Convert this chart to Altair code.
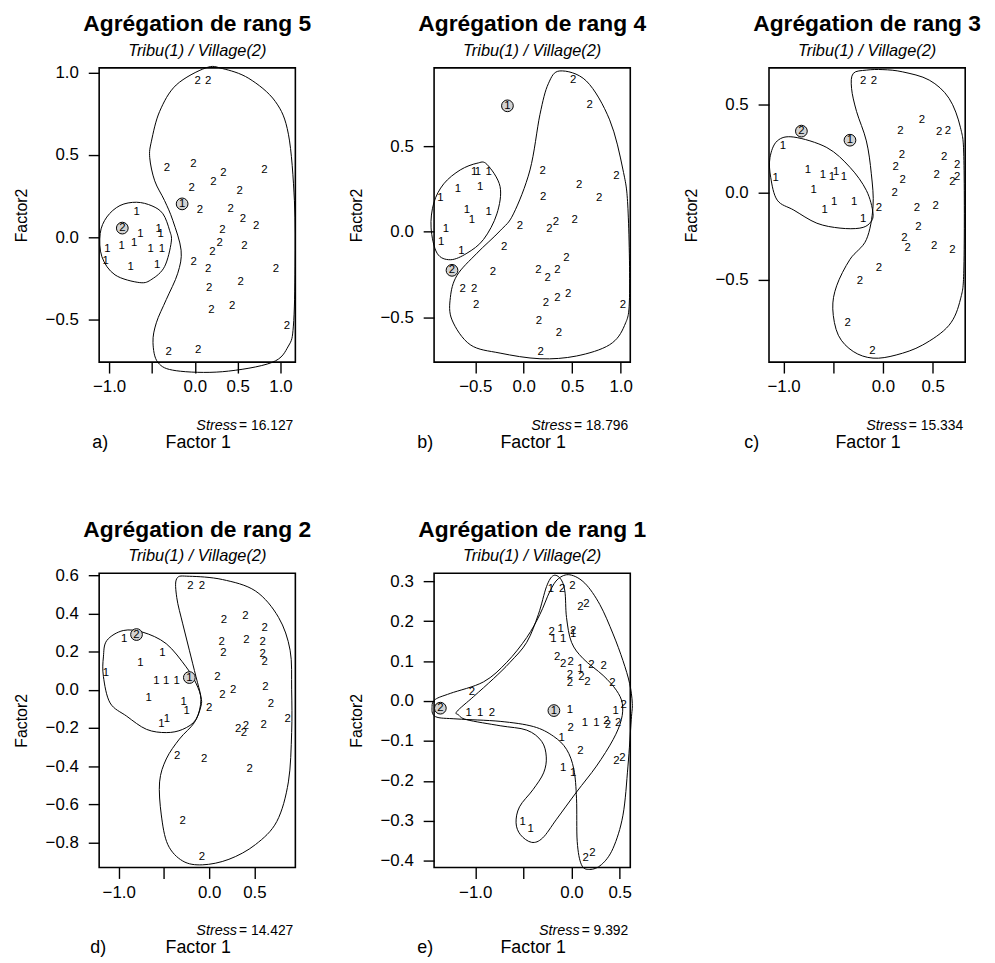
import altair as alt
import pandas as pd

FONT = "Liberation Sans"
W, H = 198, 297

# ---------------- Panel a : rang 5 ----------------
a_lab = ["2"] * 27 + ["1"] * 12
a_x = [0.032, 0.156, -0.326, -0.017, 0.812, 0.217, 0.333, -0.037, 0.522, 0.060, 0.418, 0.561, 0.715,
       0.321, 0.291, 0.206, 0.580, -0.014, 0.156, 0.946, 0.534, 0.168, 0.194, 0.437, 1.073, -0.306, 0.040,
       -0.680, -0.634, -0.422, -0.399, -1.020, -0.853, -0.708, -0.514, -0.384, -1.040, -0.749, -0.438]
a_y = [0.95, 0.95, 0.422, 0.443, 0.407, 0.332, 0.392, 0.298, 0.278, 0.166, 0.172, 0.112, 0.067,
       0.046, -0.035, -0.089, -0.055, -0.149, -0.193, -0.193, -0.270, -0.309, -0.444, -0.420, -0.540, -0.697, -0.685,
       0.152, 0.022, 0.052, 0.016, -0.075, -0.055, -0.035, -0.075, -0.075, -0.143, -0.179, -0.169]
a_hl_lab = ["1", "2"]
a_hl_x = [-0.148, -0.846]
a_hl_y = [0.202, 0.055]
a_c1_x = [-0.680, -0.500, -0.372, -0.295, -0.275, -0.353, -0.500, -0.642, -0.931, -1.084, -1.104, -1.027, -0.873]
a_c1_y = [0.212, 0.190, 0.142, 0.042, -0.030, -0.179, -0.255, -0.276, -0.229, -0.119, 0.022, 0.122, 0.192]
a_c2_x = [0.129, -0.217, -0.410, -0.506, -0.526, -0.468, -0.353, -0.257, -0.160, -0.199, -0.333, -0.449, -0.488,
          -0.430, -0.217, 0.321, 0.899, 1.092, 1.150, 1.170, 1.162, 1.092, 0.939, 0.630, 0.321]
a_c2_y = [1.028, 0.924, 0.764, 0.583, 0.483, 0.342, 0.222, 0.102, -0.079, -0.219, -0.379, -0.520, -0.640,
          -0.761, -0.811, -0.817, -0.761, -0.661, -0.540, -0.179, 0.222, 0.625, 0.824, 0.964, 1.024]

# ---------------- Panel b : rang 4 ----------------
b_lab = ["2"] * 27 + ["1"] * 12
b_x = [0.511, 0.682, 0.195, 0.572, 0.202, 0.778, 0.956, -0.038, 0.264, 0.332, 0.527, -0.202, -0.319, -0.630,
       -0.511, -0.490, 0.151, 0.247, 0.349, 0.442, 0.229, 0.349, 0.459, 1.025, 0.157, 0.363, 0.175,
       -0.511, -0.473, -0.363, -0.678, -0.449, -0.860, -0.586, -0.534, -0.363, -0.802, -0.853, -0.644]
b_y = [0.890, 0.744, 0.355, 0.273, 0.205, 0.196, 0.326, 0.035, 0.016, 0.060, 0.070, -0.089, -0.236, -0.333,
       -0.333, -0.430, -0.221, -0.269, -0.221, -0.153, -0.419, -0.386, -0.362, -0.430, -0.521, -0.593, -0.705,
       0.347, 0.347, 0.347, 0.248, 0.260, 0.196, 0.128, 0.070, 0.118, 0.016, -0.062, -0.110]
b_hl_lab = ["1", "2"]
b_hl_x = [-0.168, -0.740]
b_hl_y = [0.737, -0.225]
b_c1_x = [-0.380, -0.244, -0.277, -0.414, -0.586, -0.757, -0.894, -0.956, -0.928, -0.825, -0.655, -0.483]
b_c1_y = [0.395, 0.265, 0.105, -0.044, -0.125, -0.163, -0.125, 0.023, 0.169, 0.281, 0.362, 0.401]
b_c2_x = [0.373, 0.647, 0.887, 1.025, 1.076, 1.092, 1.041, 0.887, 0.545, 0.168, -0.244, -0.552, -0.740,
          -0.757, -0.689, -0.483, -0.244, -0.106, 0.065, 0.168, 0.254]
b_c2_y = [0.941, 0.882, 0.655, 0.362, 0.135, -0.384, -0.547, -0.660, -0.726, -0.742, -0.709, -0.660, -0.515,
          -0.384, -0.255, -0.125, 0.006, 0.105, 0.362, 0.687, 0.866]

# ---------------- Panel c : rang 3 ----------------
c_lab = ["2"] * 27 + ["1"] * 12
c_x = [-0.199, -0.090, -0.040, 0.176, 0.392, 0.565, 0.655, 0.192, 0.127, 0.199, 0.615, 0.748, 0.748, 0.698,
       0.541, 0.117, 0.342, 0.531, 0.356, 0.216, 0.249, 0.515, 0.698, -0.040, -0.232, -0.356, -0.107,
       -1.007, -1.080, -0.755, -0.605, -0.515, -0.472, -0.392, -0.698, -0.588, -0.492, -0.289, -0.199]
c_y = [0.638, 0.638, -0.089, 0.350, 0.416, 0.345, 0.350, 0.215, 0.143, 0.068, 0.203, 0.156, 0.090, 0.058,
       0.100, -0.007, -0.089, -0.079, -0.199, -0.262, -0.318, -0.305, -0.332, -0.435, -0.507, -0.746, -0.908,
       0.262, 0.081, 0.128, 0.096, 0.086, 0.115, 0.086, 0.015, -0.102, -0.058, -0.058, -0.153]
c_hl_lab = ["2", "1"]
c_hl_x = [-0.821, -0.332]
c_hl_y = [0.350, 0.298]
c_c1_x = [-1.064, -0.897, -0.565, -0.332, -0.167, -0.100, -0.133, -0.232, -0.432, -0.665, -0.897, -1.064, -1.130, -1.137]
c_c1_y = [0.294, 0.316, 0.256, 0.143, 0.011, -0.120, -0.177, -0.205, -0.205, -0.177, -0.102, -0.045, 0.086, 0.199]
c_c2_x = [-0.167, -0.299, -0.316, -0.266, -0.167, -0.117, -0.100, -0.167, -0.332, -0.466, -0.505, -0.449,
          -0.299, -0.100, 0.133, 0.399, 0.665, 0.781, 0.815, 0.815, 0.781, 0.665, 0.466, 0.199, 0.0]
c_c2_y = [0.699, 0.680, 0.595, 0.463, 0.294, 0.106, -0.083, -0.271, -0.384, -0.535, -0.667, -0.818,
          -0.911, -0.949, -0.931, -0.874, -0.761, -0.610, -0.422, 0.181, 0.369, 0.538, 0.642, 0.689, 0.702]

# ---------------- Panel d : rang 2 ----------------
d_lab = ["2"] * 27 + ["1"] * 12
d_x = [-0.208, -0.080, 0.164, 0.402, 0.613, 0.139, 0.157, 0.413, 0.591, 0.591, 0.613, 0.091, 0.146, 0.266,
       0.621, 0.682, 0.0, 0.869, 0.321, 0.383, 0.405, 0.602, -0.354, -0.055, 0.449, -0.292, -0.080,
       -0.939, -0.518, -0.759, -1.142, -0.584, -0.474, -0.358, -0.668, -0.281, -0.249, -0.529, -0.468]
d_y = [0.543, 0.543, 0.365, 0.388, 0.324, 0.250, 0.190, 0.262, 0.250, 0.186, 0.146, 0.069, -0.026, 0.0,
       0.017, -0.074, -0.095, -0.155, -0.207, -0.224, -0.191, -0.186, -0.348, -0.362, -0.413, -0.689, -0.875,
       0.267, 0.190, 0.141, 0.086, 0.048, 0.048, 0.048, -0.043, -0.066, -0.112, -0.177, -0.155]
d_hl_lab = ["2", "1"]
d_hl_x = [-0.803, -0.219]
d_hl_y = [0.289, 0.064]
d_c1_x = [-1.131, -0.950, -0.731, -0.474, -0.255, -0.146, -0.091, -0.146, -0.292, -0.474, -0.693, -0.912, -1.095, -1.169, -1.169]
d_c1_y = [0.258, 0.310, 0.301, 0.241, 0.120, 0.035, -0.052, -0.155, -0.207, -0.224, -0.207, -0.138, -0.069, 0.069, 0.172]
d_c2_x = [-0.358, -0.219, 0.146, 0.512, 0.767, 0.895, 0.912, 0.912, 0.876, 0.748, 0.512, 0.219, -0.073,
          -0.292, -0.457, -0.529, -0.548, -0.474, -0.329, -0.164, -0.091, -0.091, -0.146, -0.219, -0.292, -0.358]
d_c2_y = [0.582, 0.594, 0.577, 0.517, 0.379, 0.207, 0.0, -0.224, -0.482, -0.689, -0.810, -0.887, -0.916,
          -0.896, -0.810, -0.655, -0.482, -0.362, -0.258, -0.172, -0.086, -0.035, 0.069, 0.207, 0.345, 0.482]

# ---------------- Panel e : rang 1 ----------------
e_lab = ["1"] * 17 + ["2"] * 28
e_x = [-0.214, -0.189, -0.114, -0.086, 0.017, 0.093, -1.068, -0.948, -0.017, 0.458, -0.103, 0.138, 0.259,
       -0.086, 0.017, -0.507, -0.424,
       -0.096, 0.010, 0.093, 0.155, -0.207, 0.017, -0.148, -0.086, -0.010, 0.207, 0.334, -0.017, -0.017,
       0.103, 0.165, 0.424, -1.034, -0.827, 0.541, -0.010, 0.362, 0.379, 0.483, 0.093, 0.465, 0.527, 0.148, 0.217]
e_y = [0.281, 0.155, 0.180, 0.155, 0.168, 0.081, -0.029, -0.029, -0.022, -0.026, -0.092, -0.055, -0.055,
       -0.167, -0.181, -0.303, -0.321,
       0.281, 0.287, 0.235, 0.243, 0.172, 0.176, 0.111, 0.092, 0.097, 0.089, 0.087, 0.066, 0.045,
       0.060, 0.048, 0.045, 0.023, -0.029, -0.010, -0.068, -0.051, -0.059, -0.055, -0.125, -0.150, -0.142, -0.394, -0.381]
e_hl_lab = ["2", "1"]
e_hl_x = [-1.362, -0.183]
e_hl_y = [-0.018, -0.024]
e_c1_x = [-1.189, -1.017, -0.810, -0.638, -0.465, -0.344, -0.259, -0.189, -0.114, -0.069, -0.052, 0.0, 0.121,
          0.328, 0.465, 0.527, 0.517, 0.431, 0.259, 0.052, -0.155, -0.300, -0.414, -0.530, -0.576, -0.540,
          -0.400, -0.290, -0.262, -0.310, -0.465, -0.741, -1.086, -1.172]
e_c1_y = [-0.026, 0.011, 0.056, 0.097, 0.147, 0.217, 0.287, 0.314, 0.306, 0.275, 0.209, 0.147, 0.106,
          0.064, 0.027, -0.006, -0.047, -0.097, -0.163, -0.228, -0.296, -0.343, -0.354, -0.335, -0.305, -0.265,
          -0.222, -0.180, -0.140, -0.101, -0.073, -0.062, -0.047, -0.035]
e_c2_x = [-1.448, -1.414, -1.189, -0.741, -0.396, -0.189, -0.052, 0.024, 0.052, 0.059, 0.103, 0.189, 0.310,
          0.431, 0.534, 0.586, 0.620, 0.631, 0.603, 0.534, 0.431, 0.293, 0.138, -0.017, -0.138, -0.224,
          -0.328, -0.465, -0.672, -0.913, -1.259, -1.414]
e_c2_y = [-0.014, -0.039, -0.045, -0.051, -0.064, -0.088, -0.121, -0.171, -0.245, -0.352, -0.410, -0.422, -0.410,
          -0.369, -0.286, -0.163, -0.047, -0.006, 0.044, 0.101, 0.168, 0.242, 0.295, 0.316, 0.306, 0.275,
          0.217, 0.159, 0.097, 0.048, 0.019, 0.004]

CHAR_W = {"=": 0.584, " ": 0.278, ".": 0.278}


def text_width(s, size):
    return sum(CHAR_W.get(ch, 0.556) for ch in s) * size


def one(text):
    return pd.DataFrame({"t": [text]})


def make_panel(rank, letter, letter_dx, stress, lab, xs, ys, hl_lab, hl_x, hl_y,
               contours, xdom, ydom, xticks, yticks, hide_half):
    pts = pd.DataFrame({"x": xs + hl_x, "y": ys + hl_y, "lab": lab + hl_lab})
    hl = pd.DataFrame({"x": hl_x, "y": hl_y})
    rows = []
    for k, (cx, cy) in enumerate(contours):
        for i, (u, v) in enumerate(zip(cx, cy)):
            rows.append({"x": u, "y": v, "k": k, "i": i})
    cont = pd.DataFrame(rows)

    lab_expr = "abs(datum.value + 0.5) < 0.01 ? '' : datum.label" if hide_half else "datum.label"
    X = alt.X("x:Q", scale=alt.Scale(domain=xdom, nice=False, zero=False), title=None,
              axis=alt.Axis(values=xticks, format=".1f", labelExpr=lab_expr, grid=False, domain=False,
                            tickColor="black", tickWidth=1.4, tickSize=11, labelFont=FONT,
                            labelFontSize=17, labelColor="black", labelPadding=6))
    Y = alt.Y("y:Q", scale=alt.Scale(domain=ydom, nice=False, zero=False),
              axis=alt.Axis(values=yticks, format=".1f", title="Factor2", titleX=-70, titleY=H / 2,
                            titleFont=FONT, titleFontSize=16, titleFontWeight="normal", titleColor="black",
                            grid=False, domain=False, tickColor="black", tickWidth=1.4, tickSize=11,
                            labelFont=FONT, labelFontSize=17, labelColor="black", labelPadding=10))

    lines = alt.Chart(cont).mark_line(interpolate="cardinal-closed", color="black", strokeWidth=1).encode(
        x=X, y=Y, detail="k:N", order="i:Q")
    circ = alt.Chart(hl).mark_circle(size=140, color="#d3d3d3", stroke="black", strokeWidth=1,
                                     opacity=1).encode(x=X, y=Y)
    txt = alt.Chart(pts).mark_text(font=FONT, fontSize=11.5, color="black").encode(x=X, y=Y, text="lab:N")

    title = alt.Chart(one(f"Agrégation de rang {rank}")).mark_text(
        font=FONT, fontSize=23, fontWeight="bold", color="black", align="center", baseline="alphabetic"
    ).encode(x=alt.value(W / 2), y=alt.value(-37), text="t:N")
    sub = alt.Chart(one("Tribu(1) / Village(2)")).mark_text(
        font=FONT, fontSize=16.5, fontStyle="italic", color="black", align="center", baseline="alphabetic"
    ).encode(x=alt.value(W / 2), y=alt.value(-12), text="t:N")

    num = "= " + stress
    right = 196
    num_left = right - text_width(num, 14)
    s_num = alt.Chart(one(num)).mark_text(font=FONT, fontSize=14, color="black", align="left",
                                          baseline="alphabetic").encode(
        x=alt.value(num_left), y=alt.value(H + 68), text="t:N")
    s_lab = alt.Chart(one("Stress")).mark_text(font=FONT, fontSize=14.5, fontStyle="italic", color="black",
                                               align="right", baseline="alphabetic").encode(
        x=alt.value(num_left - 2), y=alt.value(H + 68), text="t:N")
    fac = alt.Chart(one("Factor 1")).mark_text(font=FONT, fontSize=18, color="black", align="center",
                                               baseline="alphabetic").encode(
        x=alt.value(W / 2 + 1), y=alt.value(H + 86.5), text="t:N")
    let = alt.Chart(one(letter)).mark_text(font=FONT, fontSize=18, color="black", align="left",
                                           baseline="alphabetic").encode(
        x=alt.value(letter_dx), y=alt.value(H + 86.5), text="t:N")

    return alt.layer(lines, circ, txt, title, sub, s_num, s_lab, fac, let).properties(width=W, height=H)


pa = make_panel(5, "a)", -7, "16.127", a_lab, a_x, a_y, a_hl_lab, a_hl_x, a_hl_y,
                [(a_c1_x, a_c1_y), (a_c2_x, a_c2_y)], [-1.116, 1.173], [-0.759, 1.028],
                [-1.0, -0.5, 0.0, 0.5, 1.0], [-0.5, 0.0, 0.5, 1.0], True)
pb = make_panel(4, "b)", -17, "18.796", b_lab, b_x, b_y, b_hl_lab, b_hl_x, b_hl_y,
                [(b_c1_x, b_c1_y), (b_c2_x, b_c2_y)], [-0.925, 1.100], [-0.762, 0.959],
                [-0.5, 0.0, 0.5, 1.0], [-0.5, 0.0, 0.5], False)
pc = make_panel(3, "c)", -25, "15.334", c_lab, c_x, c_y, c_hl_lab, c_hl_x, c_hl_y,
                [(c_c1_x, c_c1_y), (c_c2_x, c_c2_y)], [-1.147, 0.828], [-0.972, 0.712],
                [-1.0, -0.5, 0.0, 0.5], [-0.5, 0.0, 0.5], True)
pd_ = make_panel(2, "d)", -9, "14.427", d_lab, d_x, d_y, d_hl_lab, d_hl_x, d_hl_y,
                 [(d_c1_x, d_c1_y), (d_c2_x, d_c2_y)], [-1.216, 0.953], [-0.930, 0.610],
                 [-1.0, -0.5, 0.0, 0.5], [-0.8, -0.6, -0.4, -0.2, 0.0, 0.2, 0.4, 0.6], True)
pe = make_panel(1, "e)", -17, "9.392", e_lab, e_x, e_y, e_hl_lab, e_hl_x, e_hl_y,
                [(e_c1_x, e_c1_y), (e_c2_x, e_c2_y)], [-1.427, 0.610], [-0.417, 0.320],
                [-1.0, -0.5, 0.0, 0.5], [-0.4, -0.3, -0.2, -0.1, 0.0, 0.1, 0.2, 0.3], True)

chart = alt.concat(pa, pb, pc, pd_, pe, columns=3, spacing={"row": 213, "column": 140},
                   bounds="flush").properties(
    background="white", padding={"top": 0, "left": 5, "right": 5, "bottom": 5}
).configure_view(
    stroke="black", strokeWidth=1.6
)

chart.save("out.html", embed_options={"renderer": "svg", "actions": False})
